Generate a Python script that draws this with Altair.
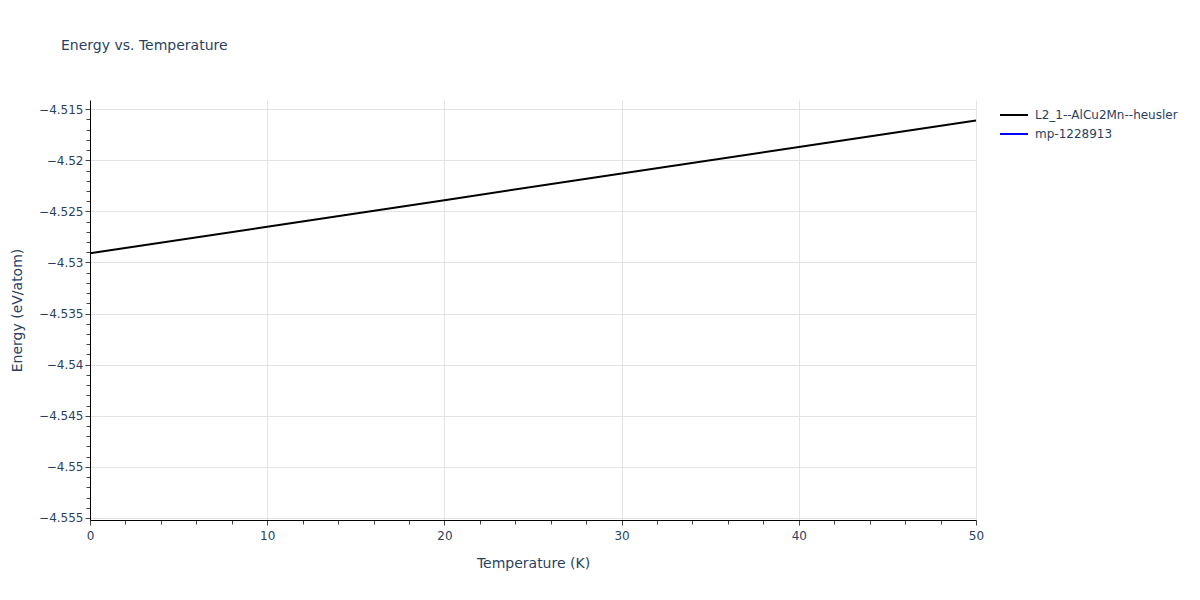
import altair as alt
import pandas as pd

# ---- data ----
temps = [0, 10, 20, 30, 40, 50]
energy_l21 = [-4.5291, -4.5265, -4.5239, -4.5213, -4.5187, -4.5161]
series_names = ["L2_1--AlCu2Mn--heusler", "mp-1228913"]
series_colors = ["#000000", "#0000ff"]

x_ticks = list(range(0, 51, 2))
y_ticks = [round(-4.555 + 0.001 * i, 3) for i in range(41)]

df = pd.DataFrame({"T": temps, "E": energy_l21, "series": [series_names[0]] * len(temps)})

FONT = "DejaVu Sans"
TXT = "#2a3f5f"

x_major = "datum.value % 10 == 0"
y_major = "abs(round(datum.value * 1000)) % 5 == 0"

x_axis = alt.Axis(
    values=x_ticks,
    title="Temperature (K)",
    labelExpr=f"{x_major} ? datum.label : ''",
    labelOverlap=False,
    labelFlush=False,
    labelPadding=5,
    tickSize={"condition": {"test": x_major, "value": 5}, "value": 4},
    gridOpacity={"condition": {"test": x_major, "value": 1}, "value": 0},
    titleY=43,
    titleBaseline="middle",
)

y_axis = alt.Axis(
    values=y_ticks,
    format=".3~f",
    title="Energy (eV/atom)",
    labelExpr=f"{y_major} ? datum.label : ''",
    labelOverlap=False,
    labelFlush=False,
    labelPadding=2,
    tickSize={"condition": {"test": y_major, "value": 5}, "value": 4},
    gridOpacity={"condition": {"test": y_major, "value": 1}, "value": 0},
    titleX=-73,
    titleY=210,
    titleAngle=-90,
    titleBaseline="middle",
)

legend = alt.Legend(
    title=None,
    orient="none",
    legendX=918,
    legendY=9,
    padding=0,
    symbolType="M-2.8,0H2.8",
    symbolSize=100,
    symbolStrokeWidth=2,
    labelOffset=15,
    rowPadding=7,
    labelFont=FONT,
    labelFontSize=12,
    labelColor=TXT,
    labelLimit=400,
)

chart = (
    alt.Chart(df)
    .mark_line(strokeWidth=2)
    .encode(
        x=alt.X("T:Q", scale=alt.Scale(domain=[0, 50], nice=False, zero=False), axis=x_axis),
        y=alt.Y("E:Q", scale=alt.Scale(domain=[-4.5552, -4.5141], nice=False, zero=False), axis=y_axis),
        color=alt.Color("series:N", scale=alt.Scale(domain=series_names, range=series_colors), legend=legend),
    )
    .properties(
        width=886,
        height=420,
        title=alt.TitleParams(
            "Energy vs. Temperature",
            anchor="start",
            frame="group",
            dx=-29,
            offset=36,
            baseline="alphabetic",
            font=FONT,
            fontSize=14,
            fontWeight="normal",
            color=TXT,
        ),
        autosize=alt.AutoSizeParams(type="none"),
        padding={"left": 82, "top": 92, "right": 216, "bottom": 72},
    )
    .configure_view(strokeWidth=0)
    .configure_axis(
        domainColor="#000000",
        domainWidth=1,
        tickColor="#444444",
        tickWidth=1,
        gridColor="#e3e3e3",
        gridWidth=1,
        labelFont=FONT,
        labelFontSize=12,
        labelColor=TXT,
        titleFont=FONT,
        titleFontSize=14,
        titleFontWeight="normal",
        titleColor=TXT,
    )
)

chart.save("out.html", embed_options={"renderer": "svg", "actions": False})
